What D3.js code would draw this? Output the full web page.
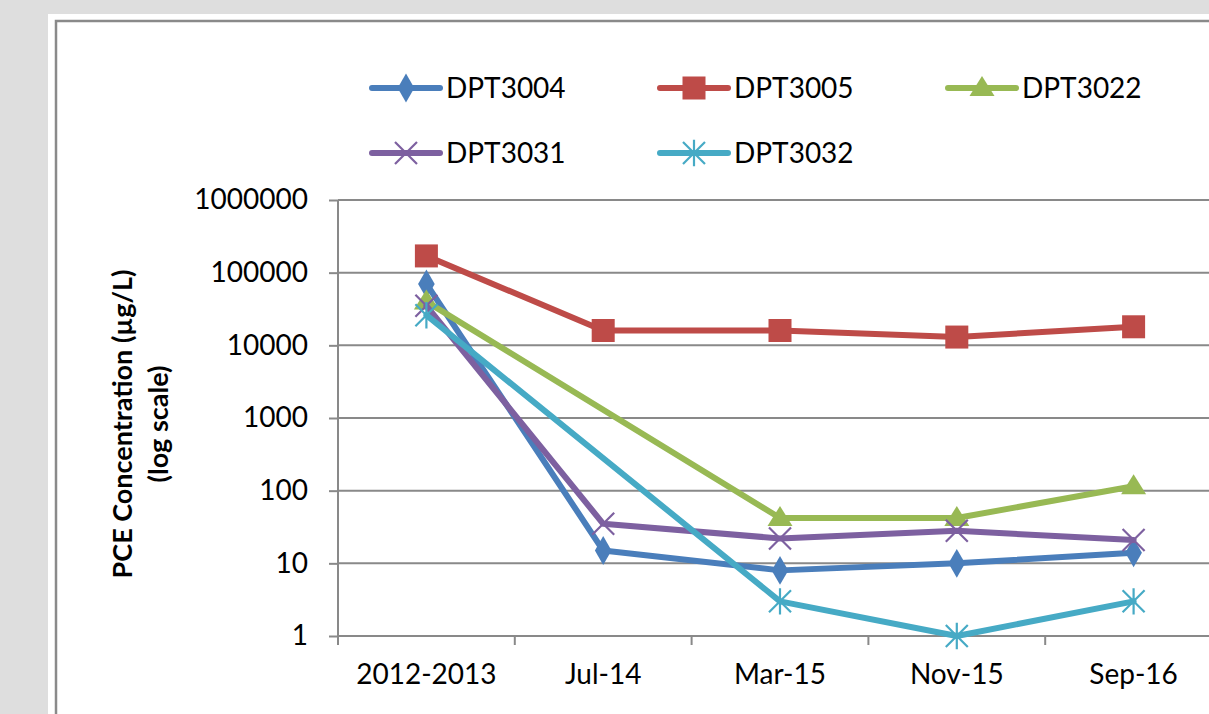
<!DOCTYPE html>
<html>
<head>
<meta charset="utf-8">
<script src="https://cdn.jsdelivr.net/npm/d3@7/dist/d3.min.js"></script>
<style>
html,body{margin:0;padding:0;background:#dedede;overflow:hidden;}
svg{display:block;}
text{font-family:Lato,"Open Sans",sans-serif;fill:#000;}
</style>
</head>
<body>
<svg id="chart" width="1209" height="714"></svg>
<script>
const categories = ["2012-2013", "Jul-14", "Mar-15", "Nov-15", "Sep-16"];
const seriesNames = ["DPT3004", "DPT3005", "DPT3022", "DPT3031", "DPT3032"];
const dpt3004 = [70000, 15, 8, 10, 14];
const dpt3005 = [170000, 16000, 16000, 13000, 18000];
const dpt3022 = [40000, null, 42, 42, 115];
const dpt3031 = [35000, 35, 22, 28, 21];
const dpt3032 = [26000, null, 3, 1, 3];
const yTicks = [1, 10, 100, 1000, 10000, 100000, 1000000];
const colors = ["#4a7ebb", "#be4b48", "#98b954", "#7d60a0", "#46aac5"];
const markers = ["diamond", "square", "triangle", "x", "star"];
const seriesValues = [dpt3004, dpt3005, dpt3022, dpt3031, dpt3032];

const svg = d3.select("#chart");
// panel
svg.append("rect").attr("x", 48).attr("y", 14).attr("width", 1300).attr("height", 800).attr("fill", "#fff");
svg.append("rect").attr("x", 56).attr("y", 21).attr("width", 1300).attr("height", 800)
  .attr("fill", "#fff").attr("stroke", "#8a8a8a").attr("stroke-width", 2.5);

const pL = 338, pR = 1222, pT = 200, pB = 636;
const x = d3.scaleBand().domain(categories).range([pL, pR]).padding(0);
const y = d3.scaleLog().domain([1, 1000000]).range([pB, pT]);
const cx = c => x(c) + x.bandwidth() / 2;

const grid = "#898989";
const fs = 28;
// gridlines
svg.append("g").selectAll("line").data(yTicks).join("line")
  .attr("x1", pL).attr("x2", pR).attr("y1", d => y(d)).attr("y2", d => y(d))
  .attr("stroke", grid).attr("stroke-width", 2);

// y axis
const yAxis = svg.append("g").attr("transform", `translate(${pL},0)`)
  .call(d3.axisLeft(y).tickValues(yTicks).tickFormat(d3.format("d")).tickSize(9).tickPadding(21));
yAxis.select(".domain").attr("stroke", grid).attr("stroke-width", 2).attr("d", `M0,${pB}V${pT}`);
yAxis.selectAll(".tick line").attr("stroke", grid).attr("stroke-width", 2);
yAxis.selectAll(".tick text").attr("font-size", fs).attr("font-family", "Lato, sans-serif").attr("fill", "#000");

// x axis
const xAxis = svg.append("g").attr("transform", `translate(0,${pB})`)
  .call(d3.axisBottom(x).tickSize(0).tickPadding(28));
xAxis.select(".domain").attr("stroke", grid).attr("stroke-width", 2).attr("d", `M${pL},0H${pR}`);
xAxis.selectAll(".tick text").attr("font-size", fs).attr("font-family", "Lato, sans-serif").attr("fill", "#000");
const bounds = categories.map(c => x(c)).concat([pR]);
svg.append("g").selectAll("line").data(bounds).join("line")
  .attr("x1", d => d).attr("x2", d => d).attr("y1", pB).attr("y2", pB + 9)
  .attr("stroke", grid).attr("stroke-width", 2);

// y title
const yt = svg.append("text").attr("transform", `translate(132,424) rotate(-90)`)
  .attr("text-anchor", "middle").attr("font-weight", "bold").attr("font-size", 27);
yt.append("tspan").attr("x", 0).attr("y", 0).text("PCE Concentration (µg/L)");
yt.append("tspan").attr("x", 0).attr("y", 36).text("(log scale)");

function drawMarker(g, type, color, px, py, scale) {
  const s = scale || 1;
  if (type === "diamond") {
    g.append("path").attr("d", d3.symbol(d3.symbolDiamond, 240 * s * s)()).attr("transform", `translate(${px},${py})`).attr("fill", color);
  } else if (type === "square") {
    const w = 23 * s;
    g.append("rect").attr("x", px - w / 2).attr("y", py - w / 2).attr("width", w).attr("height", w).attr("fill", color);
  } else if (type === "triangle") {
    const w = 25 * s, h = 20 * s;
    g.append("path").attr("d", `M${px},${py - h * 0.6}L${px + w / 2},${py + h * 0.4}L${px - w / 2},${py + h * 0.4}Z`).attr("fill", color);
  } else if (type === "x") {
    const r = 11 * s;
    g.append("path").attr("d", `M${px - r},${py - r}L${px + r},${py + r}M${px - r},${py + r}L${px + r},${py - r}`)
      .attr("stroke", color).attr("stroke-width", 2.2).attr("fill", "none");
  } else if (type === "star") {
    const r = 11 * s;
    g.append("path").attr("d", `M${px - r},${py - r}L${px + r},${py + r}M${px - r},${py + r}L${px + r},${py - r}M${px},${py - r * 1.2}L${px},${py + r * 1.2}`)
      .attr("stroke", color).attr("stroke-width", 2.2).attr("fill", "none");
  }
}

// series
const line = d3.line().x(d => cx(d.c)).y(d => y(d.v));
seriesValues.forEach((vals, i) => {
  const pts = categories.map((c, j) => ({c, v: vals[j]})).filter(d => d.v != null);
  const g = svg.append("g");
  g.append("path").datum(pts).attr("d", line).attr("fill", "none")
    .attr("stroke", colors[i]).attr("stroke-width", 6).attr("stroke-linejoin", "round").attr("stroke-linecap", "round");
  pts.forEach(d => drawMarker(g, markers[i], colors[i], cx(d.c), y(d.v)));
});

// legend
const legendPos = [[372, 88], [660, 88], [948, 88], [372, 153], [660, 153]];
seriesNames.forEach((name, i) => {
  const [lx, ly] = legendPos[i];
  const g = svg.append("g");
  g.append("line").attr("x1", lx).attr("x2", lx + 68).attr("y1", ly).attr("y2", ly)
    .attr("stroke", colors[i]).attr("stroke-width", 6).attr("stroke-linecap", "round");
  drawMarker(g, markers[i], colors[i], lx + 34, ly, 1);
  g.append("text").attr("x", lx + 74).attr("y", ly).attr("dy", "0.36em").attr("font-size", fs).text(name);
});
</script>
</body>
</html>
